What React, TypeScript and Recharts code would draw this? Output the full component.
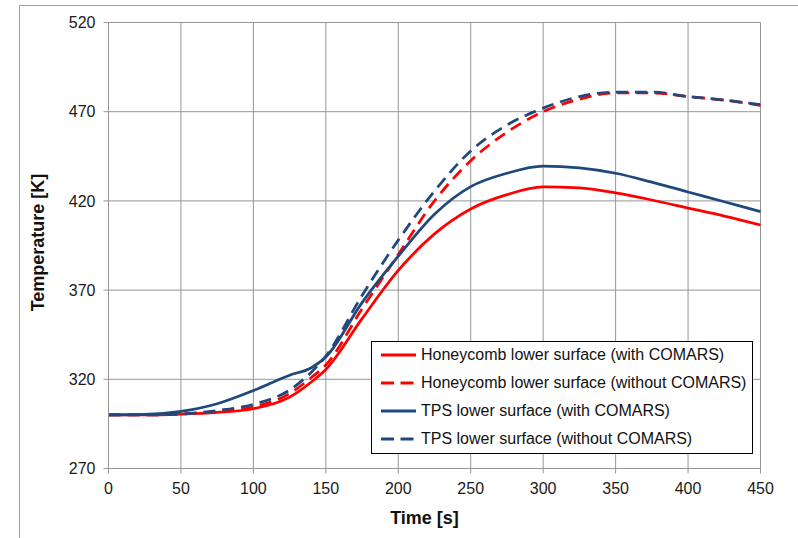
import React from 'react';
import { LineChart, Line, XAxis, YAxis, CartesianGrid, Legend } from 'recharts';

const times = [0, 25, 50, 75, 100, 125, 140, 150, 175, 200, 225, 250, 275, 300, 325, 350, 375, 400, 425, 450];
const honeycombWith = [300, 300, 300.5, 301.5, 303.5, 310, 318.5, 325.5, 354, 381, 401.5, 415.5, 423.5, 427.8, 427.3, 424.5, 420.5, 416, 411.5, 406.5];
const honeycombWithout = [300, 300, 300.5, 302, 304.5, 312, 321, 328, 359.5, 390, 420, 442.5, 458.5, 470, 477, 480.5, 480.5, 478.5, 476.5, 473.5];
const tpsWith = [300, 300.3, 302, 306.3, 313.7, 322.3, 326.5, 332.5, 363, 389, 412.5, 428, 435.5, 439.5, 438.5, 435.5, 430.5, 425, 419.5, 414];
const tpsWithout = [300, 300, 300.5, 302.5, 306, 314, 324, 333, 367, 398, 425.5, 448, 462.5, 472, 478.5, 481, 481, 478.5, 476.5, 474];

const xTicks = [0, 50, 100, 150, 200, 250, 300, 350, 400, 450];
const yTicks = [270, 320, 370, 420, 470, 520];

const RED = '#FF0000';
const BLUE = '#1F497D';
const FONT = '"Liberation Sans", Arial, sans-serif';

const series = [
  { key: 'hw', name: 'Honeycomb lower surface (with COMARS)', color: RED, dashed: false, values: honeycombWith },
  { key: 'hwo', name: 'Honeycomb lower surface (without COMARS)', color: RED, dashed: true, values: honeycombWithout },
  { key: 'tw', name: 'TPS lower surface (with COMARS)', color: BLUE, dashed: false, values: tpsWith },
  { key: 'two', name: 'TPS lower surface (without COMARS)', color: BLUE, dashed: true, values: tpsWithout },
];

const data = times.map((t, i) => {
  const row: Record<string, number> = { t };
  series.forEach((s) => {
    row[s.key] = s.values[i];
  });
  return row;
});

const LegendBox = () => (
  <div
    style={{
      position: 'relative',
      boxSizing: 'border-box',
      width: 382,
      height: 113,
      border: '1.5px solid #000',
      background: '#fff',
      fontFamily: FONT,
      fontSize: 16,
      color: '#111',
    }}
  >
    {series.map((s, i) => (
      <div
        key={s.key}
        style={{
          position: 'absolute',
          left: 9,
          top: 12.5 + i * 28.3 - 10,
          height: 20,
          display: 'flex',
          alignItems: 'center',
          whiteSpace: 'nowrap',
        }}
      >
        <svg width={36} height={6} style={{ display: 'block' }}>
          <line
            x1={0}
            y1={3}
            x2={35}
            y2={3}
            stroke={s.color}
            strokeWidth={3}
            strokeDasharray={s.dashed ? '13 6.5' : undefined}
          />
        </svg>
        <span style={{ marginLeft: 4 }}>{s.name}</span>
      </div>
    ))}
  </div>
);

export default function App() {
  return (
    <div style={{ position: 'absolute', left: 0, top: 0, width: 798, height: 538, background: '#fff' }}>
      <div
        style={{
          position: 'absolute',
          left: 19,
          top: 5,
          width: 779,
          height: 533,
          borderTop: '1px solid #a0a0a0',
          borderLeft: '1px solid #a0a0a0',
          boxSizing: 'border-box',
        }}
      />
      <LineChart
        width={798}
        height={538}
        data={data}
        margin={{ top: 22.5, right: 37.5, left: 0, bottom: 0 }}
      >
        <CartesianGrid stroke="#959595" strokeWidth={1} />
        <XAxis
          dataKey="t"
          type="number"
          domain={[0, 450]}
          ticks={xTicks}
          height={69.5}
          tickSize={5}
          tickMargin={9}
          stroke="#959595"
          tick={{ fill: '#1a1a1a', fontSize: 16, fontFamily: FONT }}
          label={{
            value: 'Time [s]',
            position: 'insideBottom',
            offset: 14,
            dx: -10,
            style: { fontFamily: FONT, fontSize: 18, fontWeight: 'bold', fill: '#111' },
          }}
        />
        <YAxis
          type="number"
          domain={[270, 520]}
          ticks={yTicks}
          width={108.5}
          tickSize={5}
          tickMargin={8}
          stroke="#959595"
          tick={{ fill: '#1a1a1a', fontSize: 16, fontFamily: FONT }}
          label={{
            value: 'Temperature [K]',
            angle: -90,
            position: 'insideLeft',
            offset: 37.5,
            dy: -3,
            style: { fontFamily: FONT, fontSize: 18, fontWeight: 'bold', fill: '#111', textAnchor: 'middle' },
          }}
        />
        {series.map((s) => (
          <Line
            key={s.key}
            type="monotone"
            dataKey={s.key}
            name={s.name}
            stroke={s.color}
            strokeWidth={2.75}
            strokeDasharray={s.dashed ? '12 7' : undefined}
            dot={false}
            activeDot={false}
            isAnimationActive={false}
          />
        ))}
        <Legend
          layout="vertical"
          align="center"
          verticalAlign="middle"
          content={() => <LegendBox />}
          wrapperStyle={{ left: 371, top: 341, width: 382, height: 113 }}
        />
      </LineChart>
    </div>
  );
}
